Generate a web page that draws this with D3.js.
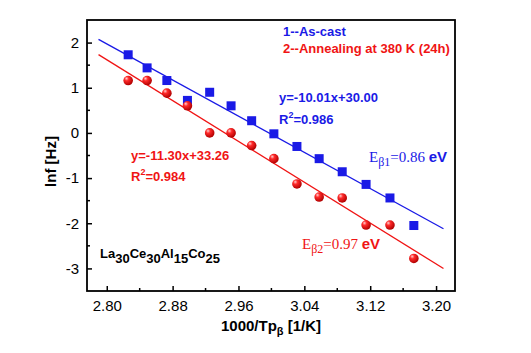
<!DOCTYPE html>
<html>
<head>
<meta charset="utf-8">
<script src="https://cdn.jsdelivr.net/npm/d3@7"></script>
<style>
  html, body { margin: 0; padding: 0; background: #fff; }
  svg { display: block; font-family: "Liberation Sans", Arial, sans-serif; }
</style>
</head>
<body>
<svg id="chart" width="531" height="353"></svg>
<script>
// 1000/Tp_beta [1/K] (same temperatures for both states)
const invTp = [2.826, 2.849, 2.873, 2.898, 2.925, 2.951, 2.976, 3.003, 3.031, 3.058, 3.086, 3.115, 3.144, 3.173];
// ln f [Hz]
const lnfAsCast = [1.73, 1.44, 1.16, 0.72, 0.90, 0.60, 0.27, -0.02, -0.30, -0.57, -0.86, -1.14, -1.44, -2.05];
const lnfAnnealed = [1.16, 1.16, 0.88, 0.60, 0.00, 0.00, -0.28, -0.57, -1.13, -1.42, -1.44, -2.04, -2.04, -2.78];
// linear fits as printed on the chart
const fitAsCast = { slope: -10.01, intercept: 30.00 };
const fitAnnealed = { slope: -11.30, intercept: 33.26 };
const fitRange = [2.790, 3.209];
const xTicks = [2.80, 2.88, 2.96, 3.04, 3.12, 3.20];
const yTicks = [-3, -2, -1, 0, 1, 2];

const BLUE = '#1a1ae6';
const RED = '#f01414';
const SERIF = '"Liberation Serif", "Times New Roman", serif';

const svg = d3.select('#chart');
const margin = { left: 87, right: 76, top: 20, bottom: 62 };
const W = 531, H = 353;

const x = d3.scaleLinear().domain([2.776, 3.223]).range([margin.left, W - margin.right]);
const y = d3.scaleLinear().domain([-3.5, 2.5]).range([H - margin.bottom, margin.top]);

const defs = svg.append('defs');
const grad = defs.append('radialGradient')
    .attr('id', 'ball')
    .attr('cx', '38%').attr('cy', '35%').attr('r', '65%')
    .attr('fx', '32%').attr('fy', '28%');
grad.append('stop').attr('offset', '0%').attr('stop-color', '#ffd0d0');
grad.append('stop').attr('offset', '35%').attr('stop-color', '#ff2a2a');
grad.append('stop').attr('offset', '100%').attr('stop-color', '#b00000');

// axes
const xMinor = d3.range(2.84, 3.21, 0.08);
const yMinor = d3.range(-2.5, 2.5, 1);

const xAxis = svg.append('g')
    .attr('transform', `translate(0,${y.range()[0]})`)
    .call(d3.axisBottom(x).tickValues(xTicks).tickFormat(d3.format('.2f')).tickSizeInner(-5).tickSizeOuter(0));
xAxis.select('.domain').remove();
xAxis.selectAll('.tick line').attr('stroke', '#000').attr('stroke-width', 1.5);
xAxis.selectAll('.tick text')
    .attr('dy', 0).attr('y', 20)
    .style('font-size', '15px').style('font-family', '"Liberation Sans", Arial, sans-serif');

svg.append('g')
    .selectAll('line')
    .data(xMinor)
    .join('line')
    .attr('x1', (d) => x(d)).attr('x2', (d) => x(d))
    .attr('y1', y.range()[0]).attr('y2', y.range()[0] - 3)
    .attr('stroke', '#000').attr('stroke-width', 1.5);

const yAxis = svg.append('g')
    .attr('transform', `translate(${x.range()[0]},0)`)
    .call(d3.axisLeft(y).tickValues(yTicks).tickFormat((d) => String(d))
        .tickSizeInner(-5).tickSizeOuter(0).tickPadding(8));
yAxis.select('.domain').remove();
yAxis.selectAll('.tick line').attr('stroke', '#000').attr('stroke-width', 1.5);
yAxis.selectAll('.tick text')
    .style('font-size', '15px').style('font-family', '"Liberation Sans", Arial, sans-serif');

svg.append('g')
    .selectAll('line')
    .data(yMinor)
    .join('line')
    .attr('x1', x.range()[0]).attr('x2', x.range()[0] + 3)
    .attr('y1', (d) => y(d)).attr('y2', (d) => y(d))
    .attr('stroke', '#000').attr('stroke-width', 1.5);

// frame
svg.append('rect')
    .attr('x', x.range()[0]).attr('y', y.range()[1])
    .attr('width', x.range()[1] - x.range()[0])
    .attr('height', y.range()[0] - y.range()[1])
    .attr('fill', 'none').attr('stroke', '#000').attr('stroke-width', 1.8);

// fit lines
const fitLine = (fit) => d3.line()
    .x((d) => x(d))
    .y((d) => y(fit.slope * d + fit.intercept))(fitRange);

svg.append('path').attr('d', fitLine(fitAsCast))
    .attr('stroke', BLUE).attr('stroke-width', 1.3).attr('fill', 'none');
svg.append('path').attr('d', fitLine(fitAnnealed))
    .attr('stroke', RED).attr('stroke-width', 1.3).attr('fill', 'none');

// markers
const sq = 9;
svg.append('g')
    .selectAll('rect')
    .data(invTp.map((d, i) => [d, lnfAsCast[i]]))
    .join('rect')
    .attr('x', (d) => x(d[0]) - sq / 2)
    .attr('y', (d) => y(d[1]) - sq / 2)
    .attr('width', sq).attr('height', sq)
    .attr('fill', BLUE);

svg.append('g')
    .selectAll('circle')
    .data(invTp.map((d, i) => [d, lnfAnnealed[i]]))
    .join('circle')
    .attr('cx', (d) => x(d[0]))
    .attr('cy', (d) => y(d[1]))
    .attr('r', 4.8)
    .attr('fill', 'url(#ball)');

// annotations
function boldText(tx, ty, color, size) {
    return svg.append('text')
        .attr('x', tx).attr('y', ty)
        .attr('fill', color)
        .style('font-size', `${size}px`)
        .style('font-weight', 'bold');
}

boldText(283, 36, BLUE, 13).text('1--As-cast');
boldText(283, 53, RED, 13).text('2--Annealing at 380 K (24h)');

boldText(279, 102, BLUE, 13).text('y=-10.01x+30.00');
const r1 = boldText(279, 124, BLUE, 13);
r1.append('tspan').text('R');
r1.append('tspan').attr('dy', -6).style('font-size', '9px').text('2');
r1.append('tspan').attr('dy', 6).text('=0.986');

boldText(131, 160, RED, 13).text('y=-11.30x+33.26');
const r2 = boldText(131, 181, RED, 13);
r2.append('tspan').text('R');
r2.append('tspan').attr('dy', -6).style('font-size', '9px').text('2');
r2.append('tspan').attr('dy', 6).text('=0.984');

function energyLabel(tx, ty, color, sub, val) {
    const t = svg.append('text')
        .attr('x', tx).attr('y', ty)
        .attr('fill', color)
        .style('font-size', '15px');
    t.append('tspan').style('font-family', SERIF).text('E');
    t.append('tspan').style('font-family', SERIF).style('font-size', '12px').attr('dy', 4).text(`β${sub}`);
    t.append('tspan').style('font-family', SERIF).attr('dy', -4).text(`=${val} `);
    t.append('tspan').style('font-weight', 'bold').text('eV');
}
energyLabel(369, 162, BLUE, '1', '0.86');
energyLabel(302, 249, RED, '2', '0.97');

// composition
const comp = [['La', '30'], ['Ce', '30'], ['Al', '15'], ['Co', '25']];
const ct = boldText(100, 258, '#000', 13);
comp.forEach(([el, n], i) => {
    ct.append('tspan').attr('dy', i === 0 ? 0 : -5).text(el);
    ct.append('tspan').attr('dy', 5).text(n);
});

// axis titles
const xt = svg.append('text')
    .attr('x', (x.range()[0] + x.range()[1]) / 2)
    .attr('y', 331)
    .attr('text-anchor', 'middle')
    .style('font-size', '15px').style('font-weight', 'bold');
xt.append('tspan').text('1000/Tp');
xt.append('tspan').attr('dy', 4).style('font-size', '11px').text('β');
xt.append('tspan').attr('dy', -4).text(' [1/K]');

svg.append('text')
    .attr('transform', `translate(56,${(y.range()[0] + y.range()[1]) / 2 + 6}) rotate(-90)`)
    .attr('text-anchor', 'middle')
    .style('font-size', '15px').style('font-weight', 'bold')
    .text('lnf [Hz]');
</script>
</body>
</html>
